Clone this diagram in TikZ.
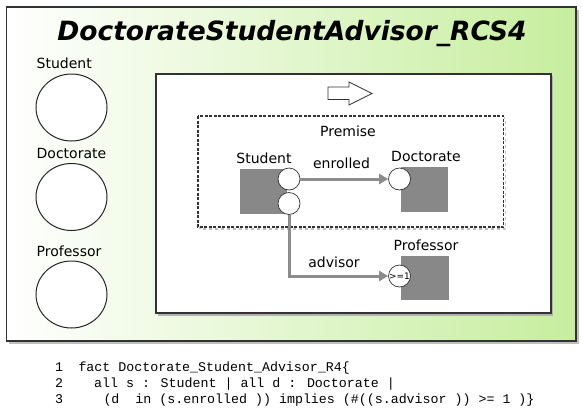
\documentclass[tikz,border=0pt]{standalone}
\usepackage{fontspec}
\setmainfont{DejaVu Sans}
\newfontfamily\codefont{Liberation Mono}
\usetikzlibrary{shapes.geometric,arrows.meta}
\definecolor{lgreen}{RGB}{198,238,158}
\definecolor{boxgray}{RGB}{136,136,136}
\definecolor{linegray}{RGB}{140,140,140}
\definecolor{edgedark}{RGB}{50,50,50}
\tikzset{
  lbl/.style={inner sep=0pt, font=\fontsize{14}{15}\selectfont},
  bigcirc/.style={ellipse, draw=black!85, line width=1pt, fill=white, minimum width=71pt, minimum height=67pt, inner sep=0pt},
  classbox/.style={rectangle, fill=boxgray, draw=none, inner sep=0pt},
  port/.style={circle, draw=edgedark, line width=0.7pt, fill=white, minimum size=22pt, inner sep=0pt},
  rel/.style={draw=linegray, line width=3pt, -{Triangle[length=9pt,width=10pt]}},
  code/.style={anchor=base west, inner sep=0pt, font=\codefont\fontsize{13.3}{14}\selectfont}
}
\begin{document}
\begin{tikzpicture}[x=1pt,y=-1pt]
\useasboundingbox (0,0) rectangle (583,413);
% outer frame
\fill[black!25] (9,10) rectangle (578.5,343.5);
\shade[left color=white, right color=lgreen, draw=edgedark, line width=1.6pt] (6.5,7) rectangle (576,341);
\node[font=\fontsize{26.5}{30}\selectfont\bfseries\itshape, inner sep=0pt, anchor=base] (title) at (292,40) {DoctorateStudentAdvisor\_RCS4};
% left circles
\node[lbl, anchor=west] (lS) at (36.5,63) {Student};
\node[bigcirc] (cS) at (71.5,107.5) {};
\node[lbl, anchor=west] (lD) at (36.5,153) {Doctorate};
\node[bigcirc] (cD) at (71.5,197) {};
\node[lbl, anchor=west] (lP) at (36.5,251) {Professor};
\node[bigcirc] (cP) at (71.5,294.5) {};
% inner box
\fill[black!30] (158,76) rectangle (553,315.5);
\draw[fill=white, draw=edgedark, line width=1.3pt] (156,74) rectangle (551,313);
% block arrow
\draw[fill=white, draw=black!80, line width=0.8pt] (328,87) -- (349,87) -- (349,82) -- (372,93.5) -- (349,105) -- (349,99.5) -- (328,99.5) -- cycle;
% premise box
\draw[black!25, line width=1.2pt, dashed] (200,118) rectangle (505.5,229);
\draw[fill=white, draw=edgedark, line width=1.2pt, dash pattern=on 3pt off 1.5pt] (198,116) rectangle (503.5,227);
\node[lbl] (prem) at (348,131.5) {Premise};
% Student
\node[lbl] (tS) at (264,158) {Student};
\node[classbox, minimum width=47pt, minimum height=45pt] (S) at (263.5,191.5) {};
\node[port] (s2) at (289,203.5) {};
\node[port] (s1) at (289,179) {};
% Doctorate
\node[lbl] (tD) at (426,156.5) {Doctorate};
\node[classbox, minimum width=47pt, minimum height=45pt] (D) at (424.5,189.5) {};
\node[port] (d1) at (399.5,179) {};
% Professor
\node[lbl] (tP) at (426,245) {Professor};
\node[classbox, minimum width=48pt, minimum height=44pt] (P) at (425,278) {};
\node[port] (p1) at (399.5,276) {};
\node[inner sep=0pt, font=\fontsize{9}{10}\selectfont] (ge) at (399.5,276) {>=1};
% relations
\draw[rel] (s1.east) -- (d1.west);
\node[lbl] (en) at (341.5,163) {enrolled};
\draw[rel] (s2.south) |- (p1.west);
\node[lbl] (ad) at (334,262) {advisor};
% code
\node[code] (n1) at (55,371) {1};
\node[code] (n2) at (55,387) {2};
\node[code] (n3) at (55,403) {3};
\node[code] (c1) at (78.3,371) {fact Doctorate\_Student\_Advisor\_R4\{};
\node[code] (c2) at (94,387) {all s : Student | all d : Doctorate |};
\node[code] (c3) at (103.3,403) {(d\ \ in (s.enrolled )) implies (\#((s.advisor )) >= 1 )\}};
\end{tikzpicture}
\end{document}
